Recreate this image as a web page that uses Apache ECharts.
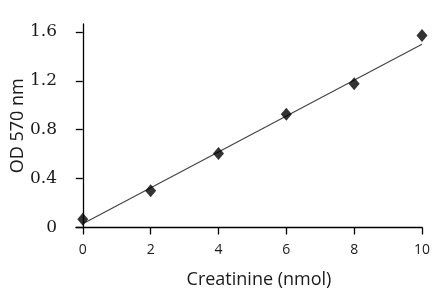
<!DOCTYPE html>
<html><head><meta charset="utf-8">
<script src="https://cdn.jsdelivr.net/npm/echarts@6/dist/echarts.min.js"></script>
<style>html,body{margin:0;padding:0;background:#fff}#c{width:442px;height:299px}</style>
</head><body><div id="c"></div>
<script>
var creatinine = [0, 2, 4, 6, 8, 10];
var od570 = [0.067, 0.30, 0.606, 0.927, 1.177, 1.571];
var trendX = [0, 10];
var trendY = [0.03, 1.50];
var xTicks = [0, 2, 4, 6, 8, 10];
var yTicks = [0, 0.4, 0.8, 1.2, 1.6];

var chart = echarts.init(document.getElementById('c'), null, {renderer: 'canvas'});
var font = '"Open Sans", "Noto Sans", sans-serif';
chart.setOption({
  animation: false,
  backgroundColor: '#fff',
  grid: {left: 76, right: 20, top: 24, bottom: 71.5, containLabel: false, outerBoundsMode: 'none'},
  xAxis: {
    type: 'value', min: -0.2, max: 10,
    name: 'Creatinine (nmol)', nameLocation: 'middle', nameGap: 43, nameMoveOverlap: false,
    nameTextStyle: {fontFamily: font, fontSize: 18, color: '#1a1a1a', padding: [0, 0, 0, 20]},
    axisLine: {onZero: true, lineStyle: {color: '#000', width: 1.3}},
    axisTick: {show: true, length: 7, customValues: xTicks, lineStyle: {color: '#000', width: 1.3}},
    axisLabel: {customValues: xTicks, margin: 16, fontFamily: font, fontSize: 14, color: '#1a1a1a'},
    splitLine: {show: false}
  },
  yAxis: {
    type: 'value', min: 0, max: 1.665,
    name: 'OD 570 nm', nameLocation: 'middle', nameGap: 49, nameMoveOverlap: false,
    nameTextStyle: {fontFamily: font, fontSize: 18, color: '#1a1a1a'},
    axisLine: {show: true, onZero: true, lineStyle: {color: '#000', width: 1.3}},
    axisTick: {show: true, length: 7, customValues: yTicks, lineStyle: {color: '#000', width: 1.3}},
    axisLabel: {customValues: yTicks, margin: 19, fontFamily: '"DejaVu Serif", serif', fontSize: 17, color: '#1a1a1a'},
    splitLine: {show: false}
  },
  series: [
    {
      type: 'line', data: trendX.map(function (x, i) { return [x, trendY[i]]; }),
      symbol: 'none', lineStyle: {color: '#444', width: 1.2}, z: 2
    },
    {
      type: 'scatter', data: creatinine.map(function (x, i) { return [x, od570[i]]; }),
      symbol: 'diamond', symbolSize: [11, 13], itemStyle: {color: '#000'}, z: 3
    }
  ]
});
</script></body></html>
